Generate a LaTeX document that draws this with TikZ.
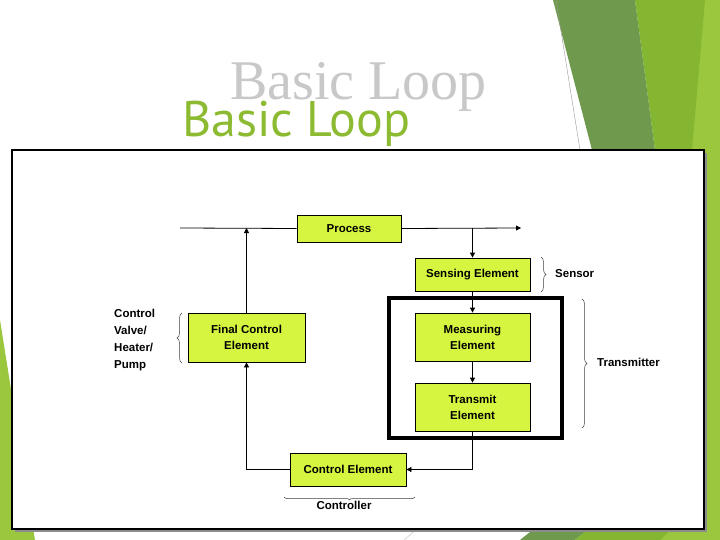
\documentclass[tikz,border=0pt]{standalone}
\usepackage{fontspec}
\usetikzlibrary{arrows.meta,decorations.pathreplacing,calc}
\newfontfamily\labfont{Liberation Sans}
\newfontfamily\titlefont{PT Sans}
\newfontfamily\ghostfont{Liberation Serif}
\definecolor{boxG}{RGB}{214,245,64}
\definecolor{darkG}{RGB}{111,154,78}
\definecolor{midG}{RGB}{132,182,50}
\definecolor{lightG}{RGB}{155,199,62}
\definecolor{titleG}{RGB}{140,186,48}
\definecolor{ghostC}{RGB}{200,200,200}
\begin{document}
\begin{tikzpicture}[x=1pt,y=-1pt,
  blk/.style={draw=black, line width=0.8pt, fill=boxG, inner sep=0pt, align=center,
    font=\labfont\bfseries\fontsize{11.5}{16}\selectfont},
  lbl/.style={inner sep=0pt, align=left, font=\labfont\bfseries\fontsize{11.5}{17}\selectfont},
  conn/.style={line width=0.8pt, draw=black},
  arr/.style={conn, -{Triangle[length=5pt,width=5pt]}},
  brc/.style={decorate, decoration={brace, amplitude=5pt}, line width=0.5pt, draw=black!75}]
\useasboundingbox (0,0) rectangle (720,540);
% background
\fill[white] (0,0) rectangle (720,540);
\fill[lightG] (690,0) -- (720,0) -- (720,540) -- (640,540) -- cycle;
\fill[midG] (635,0) -- (705,0) -- (692,150) -- (655,150) -- cycle;
\fill[darkG] (553,0) -- (635,0) -- (655,150) -- (592,150) -- cycle;
\draw[black!40, line width=0.4pt] (556,0) -- (580,150);
\fill[lightG] (0,320) -- (35,540) -- (0,540) -- cycle;
\fill[darkG] (520,540) -- (545,520) -- (600,520) -- (575,540) -- cycle;
\fill[midG] (575,540) -- (600,520) -- (680,520) -- (660,540) -- cycle;
\draw[black!25, line width=0.4pt] (404,540) -- (418,528);
% titles
\node[anchor=base west, inner sep=0pt, text=ghostC, font=\ghostfont\fontsize{56}{60}\selectfont] (ghost) at (230,100) {Basic Loop};
\node[anchor=base west, inner sep=0pt, text=titleG, font=\titlefont\fontsize{50}{56}\selectfont] (title) at (182,137) {Basic Loop};
% frame
\fill[black!45] (15,153) rectangle (707,532);
\draw[fill=white, line width=1.8pt] (12,150) rectangle (704,529);
% boxes
\node[blk, minimum width=104pt, minimum height=27pt] (proc) at (349,228.5) {Process};
\node[blk, minimum width=115pt, minimum height=33pt] (sens) at (472.5,274.5) {Sensing Element};
\node[draw=black, line width=3.5pt, minimum width=173pt, minimum height=140pt, inner sep=0pt] (txbox) at (475.5,368) {};
\node[blk, minimum width=115pt, minimum height=48pt] (meas) at (472.5,337) {Measuring\\Element};
\node[blk, minimum width=115pt, minimum height=48pt] (trans) at (472.5,407) {Transmit\\Element};
\node[blk, minimum width=117pt, minimum height=49pt] (fce) at (246.5,337.5) {Final Control\\Element};
\node[blk, minimum width=116pt, minimum height=33pt] (ctrl) at (348,469.5) {Control Element};
% labels
\node[lbl, anchor=west] (sensor) at (555,274) {Sensor};
\node[lbl, anchor=west] (transm) at (597,362) {Transmitter};
\node[lbl, anchor=north west] (valve) at (114,309) {Control\\Valve/\\Heater/\\Pump};
\node[lbl, anchor=center] (contr) at (344,505) {Controller};
% coordinates
\coordinate (pin) at (180,228);
\coordinate (pout) at (521,228);
\coordinate (tap) at (472.5,228);
\coordinate (up) at (246.5,228);
% connectors
\draw[conn] (pin) -- (proc.west);
\draw[arr] (proc.east) -- (pout);
\draw[arr] (tap) -- (sens.north);
\draw[arr] (fce.north) -- (up);
\draw[arr] (sens.south) -- (meas.north);
\draw[arr] (meas.south) -- (trans.north);
\draw[arr] (trans.south) |- (ctrl.east);
\draw[arr] (ctrl.west) -| (fce.south);
% braces
\draw[brc] (541,257) -- (541,292);
\draw[brc] (582,299) -- (582,428);
\draw[brc] (182,363) -- (182,313);
\draw[brc, decoration={brace, amplitude=3pt}] (415,497) -- (284,497);
\end{tikzpicture}
\end{document}
